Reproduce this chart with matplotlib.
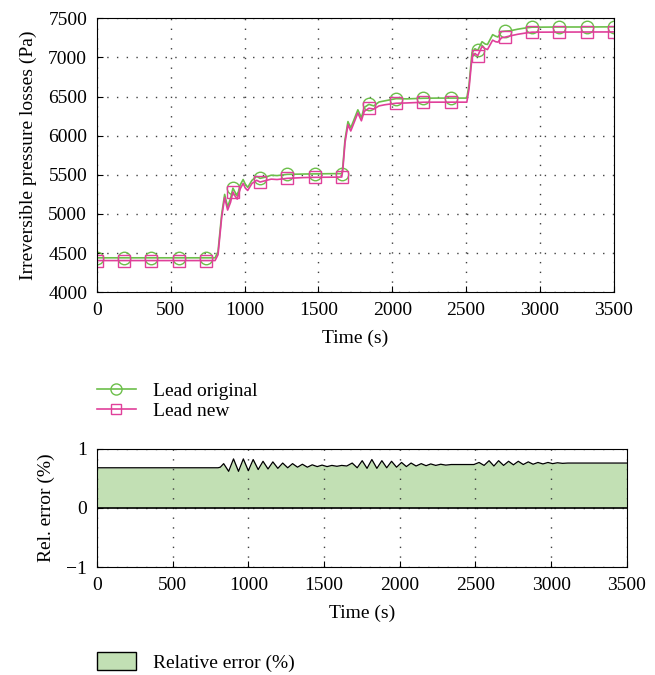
import matplotlib.pyplot as plt
from matplotlib.patches import Patch
from matplotlib.lines import Line2D

# ---------------- DATA ----------------
# time samples for the pressure-loss curves (s)
t_press = [0, 184, 368, 553, 737, 800, 820, 845, 865, 885, 905, 921, 935, 950, 970,
           990, 1005, 1021, 1050, 1082, 1105, 1140, 1180, 1220, 1289, 1400, 1474,
           1600, 1658, 1665, 1680, 1700, 1719, 1740, 1767, 1791, 1810, 1842, 1875,
           1910, 1950, 1990, 2026, 2100, 2211, 2300, 2395, 2505, 2520, 2540, 2560,
           2579, 2608, 2630, 2645, 2680, 2700, 2716, 2740, 2763, 2800, 2850, 2900,
           2947, 3000, 3132, 3316, 3500]

lead_original = [4440, 4440, 4440, 4440, 4440, 4440, 4520, 5000, 5250, 5090, 5200,
                 5330, 5280, 5230, 5370, 5440, 5380, 5340, 5430, 5480, 5455, 5470,
                 5495, 5490, 5506, 5510, 5512, 5515, 5515, 5600, 5950, 6180, 6100,
                 6200, 6330, 6230, 6360, 6400, 6380, 6430, 6445, 6460, 6473, 6470,
                 6478, 6480, 6480, 6480, 6650, 7060, 7110, 7090, 7200, 7170, 7165,
                 7290, 7270, 7260, 7330, 7335, 7340, 7360, 7375, 7386, 7386, 7388,
                 7388, 7390]

lead_new = [4405, 4405, 4405, 4405, 4405, 4405, 4480, 4960, 5210, 5050, 5150, 5281,
            5230, 5190, 5320, 5390, 5330, 5300, 5390, 5430, 5408, 5425, 5445, 5440,
            5455, 5465, 5468, 5470, 5472, 5560, 5910, 6140, 6060, 6160, 6290, 6190,
            6310, 6350, 6340, 6380, 6395, 6405, 6414, 6418, 6427, 6428, 6428, 6428,
            6600, 7000, 7050, 7021, 7140, 7110, 7100, 7220, 7200, 7195, 7250, 7258,
            7275, 7295, 7310, 7322, 7322, 7323, 7324, 7325]

marker_times = [0, 184, 368, 553, 737, 921, 1105, 1289, 1474, 1658, 1842, 2026,
                2211, 2395, 2579, 2763, 2947, 3132, 3316, 3500]

# relative error (%) - peaks and troughs
t_err = [0, 800, 815, 837, 870, 902, 935, 967, 1000, 1032, 1065, 1097, 1130, 1162,
         1195, 1227, 1260, 1292, 1325, 1357, 1390, 1422, 1455, 1487, 1520, 1552,
         1585, 1617, 1650, 1686, 1719, 1752, 1784, 1816, 1849, 1882, 1914, 1946,
         1979, 2012, 2044, 2075, 2108, 2142, 2174, 2205, 2238, 2271, 2304, 2340,
         2400, 2490, 2524, 2557, 2590, 2622, 2653, 2686, 2719, 2751, 2783, 2816,
         2849, 2881, 2913, 2946, 2979, 3010, 3042, 3075, 3110, 3200, 3500]
rel_err = [0.68, 0.68, 0.69, 0.75, 0.62, 0.83, 0.62, 0.83, 0.63, 0.82, 0.65, 0.79,
           0.66, 0.78, 0.67, 0.76, 0.68, 0.75, 0.69, 0.74, 0.69, 0.73, 0.70, 0.725,
           0.70, 0.72, 0.705, 0.72, 0.71, 0.76, 0.68, 0.80, 0.67, 0.82, 0.67, 0.80,
           0.68, 0.79, 0.69, 0.77, 0.70, 0.76, 0.71, 0.75, 0.715, 0.745, 0.72,
           0.74, 0.725, 0.735, 0.735, 0.735, 0.77, 0.72, 0.80, 0.71, 0.80, 0.72,
           0.79, 0.73, 0.79, 0.735, 0.78, 0.74, 0.77, 0.745, 0.77, 0.75, 0.765,
           0.755, 0.76, 0.76, 0.76]

# ---------------- STYLE ----------------
plt.rcParams['font.family'] = ['Liberation Serif', 'DejaVu Serif']
plt.rcParams['font.size'] = 14
green = '#6cbf4a'
magenta = '#e0409a'
grid_kw = dict(color='0.25', linestyle=(0, (1, 6)), linewidth=1.0)

fig = plt.figure(figsize=(6.55, 6.75), dpi=100)

# ---------------- TOP PANEL ----------------
ax1 = fig.add_axes([0.148, 0.567, 0.789, 0.406])
mk = [i for i, t in enumerate(t_press) if t in marker_times]
ax1.plot(t_press, lead_original, color=green, lw=1.2, marker='o', ms=9,
         mfc='none', mec=green, markevery=mk)
ax1.plot(t_press, lead_new, color=magenta, lw=1.2, marker='s', ms=8,
         mfc='none', mec=magenta, markevery=mk)
ax1.set_xlim(0, 3500)
ax1.set_ylim(4000, 7500)
ax1.set_xticks(range(0, 3501, 500))
ax1.set_yticks(range(4000, 7501, 500))
ax1.grid(True, **grid_kw)
ax1.tick_params(direction='in', length=4, pad=7)
ax1.set_xlabel('Time (s)', labelpad=8)
ax1.set_ylabel('Irreversible pressure losses (Pa)', labelpad=8)

h1 = Line2D([], [], color=green, lw=1.2, marker='o', ms=8, mfc='none')
h2 = Line2D([], [], color=magenta, lw=1.2, marker='s', ms=7, mfc='none')
fig.legend([h1, h2], ['Lead original', 'Lead new'], loc='upper left',
           bbox_to_anchor=(0.136, 0.445), frameon=False, handlelength=2.0,
           labelspacing=0.1, borderaxespad=0, handletextpad=0.9)

# ---------------- BOTTOM PANEL ----------------
ax2 = fig.add_axes([0.148, 0.16, 0.809, 0.175])
ax2.fill_between(t_err, 0, rel_err, color='#c2e0b4', lw=0)
ax2.plot(t_err, rel_err, color='black', lw=0.9)
ax2.axhline(0, color='black', lw=1.2)
ax2.set_xlim(0, 3500)
ax2.set_ylim(-1, 1)
ax2.set_xticks(range(0, 3501, 500))
ax2.set_yticks([-1, 0, 1])
ax2.set_yticklabels(['\u22121', '0', '1'])
ax2.grid(True, **grid_kw)
ax2.tick_params(direction='in', length=4, pad=7)
ax2.set_xlabel('Time (s)', labelpad=8)
ax2.set_ylabel('Rel. error (%)', labelpad=8)

p = Patch(facecolor='#c2e0b4', edgecolor='black', lw=1.0)
fig.legend([p], ['Relative error (%)'], loc='upper left',
           bbox_to_anchor=(0.136, 0.045), frameon=False, handlelength=2.0,
           handleheight=1.0, borderaxespad=0, handletextpad=0.9)

fig.savefig('out.png', dpi=100)
